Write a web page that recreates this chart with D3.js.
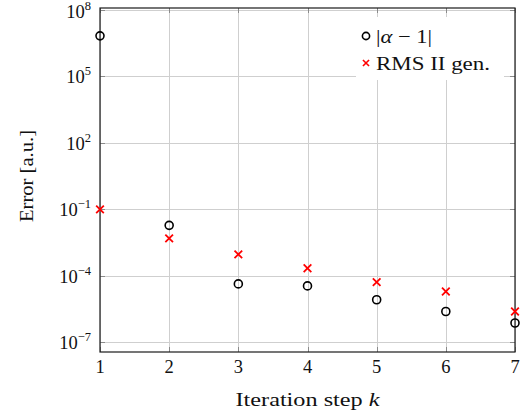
<!DOCTYPE html>
<html>
<head>
<meta charset="utf-8">
<script src="https://cdn.jsdelivr.net/npm/d3@7"></script>
<style>
	body { margin: 0; background: #fff; }
</style>
</head>
<body>
<svg id="chart" width="528" height="418"></svg>
<script>
// data
const steps = [1, 2, 3, 4, 5, 6, 7];
const alphaErr = [6.8e6, 1.9e-2, 4.3e-5, 3.5e-5, 8.3e-6, 2.45e-6, 7.4e-7];
const rmsErr = [1e-1, 4.9e-3, 9.3e-4, 2.2e-4, 5.2e-5, 1.95e-5, 2.45e-6];
const yTicks = [1e-7, 1e-4, 1e-1, 1e2, 1e5, 1e8];
const xTicks = [1, 2, 3, 4, 5, 6, 7];
const legendLabels = ["|α − 1|", "RMS II gen."];

const margin = { top: 8, right: 13, bottom: 66, left: 100 };
const width = 528, height = 418;

const svg = d3.select("#chart")
	.style("font-family", '"Liberation Serif"')
	.attr("fill", "#111");

const x = d3.scaleLinear()
	.domain([1, 7])
	.range([margin.left, width - margin.right]);

const y = d3.scaleLog()
	.domain([Math.pow(10, -7.44), Math.pow(10, 8.09)])
	.range([height - margin.bottom, margin.top]);

const x0 = x.range()[0], x1 = x.range()[1];
const y0 = y.range()[0], y1 = y.range()[1];

// grid
const grid = svg.append("g").attr("stroke", "#cfcfcf").attr("stroke-width", 1);
grid.selectAll(".gx").data(xTicks).join("line")
	.attr("x1", d => Math.round(x(d)) + 0.5).attr("x2", d => Math.round(x(d)) + 0.5)
	.attr("y1", y1).attr("y2", y0);
grid.selectAll(".gy").data(yTicks).join("line")
	.attr("y1", d => Math.round(y(d)) + 0.5).attr("y2", d => Math.round(y(d)) + 0.5)
	.attr("x1", x0).attr("x2", x1);

// tick marks inside on all sides
const ticks = svg.append("g").attr("stroke", "#8a8a8a").attr("stroke-width", 1);
const tl = 5;
xTicks.forEach(d => {
	const px = Math.round(x(d)) + 0.5;
	ticks.append("line").attr("x1", px).attr("x2", px).attr("y1", y0).attr("y2", y0 - tl);
	ticks.append("line").attr("x1", px).attr("x2", px).attr("y1", y1).attr("y2", y1 + tl);
});
yTicks.forEach(d => {
	const py = Math.round(y(d)) + 0.5;
	ticks.append("line").attr("y1", py).attr("y2", py).attr("x1", x0).attr("x2", x0 + tl);
	ticks.append("line").attr("y1", py).attr("y2", py).attr("x1", x1).attr("x2", x1 - tl);
});

// legend background (covers grid)
svg.append("rect")
	.attr("x", 356).attr("y", 17)
	.attr("width", 148).attr("height", 63)
	.attr("fill", "#fff");

// axis box
svg.append("rect")
	.attr("x", x0).attr("y", y1)
	.attr("width", x1 - x0).attr("height", y0 - y1)
	.attr("fill", "none").attr("stroke", "#1a1a1a").attr("stroke-width", 1.2);

// x tick labels
svg.append("g").selectAll("text").data(xTicks).join("text")
	.attr("x", d => x(d)).attr("y", y0 + 21)
	.attr("text-anchor", "middle")
	.attr("font-size", 18.5)
	.text(d => d);

// y tick labels 10^n
const yLab = svg.append("g").selectAll("text").data(yTicks).join("text")
	.attr("x", 91).attr("y", d => Math.max(y(d) + 7, 18))
	.attr("text-anchor", "end")
	.attr("font-size", 18.5);
yLab.append("tspan").text("10");
yLab.append("tspan")
	.attr("font-size", 12.5)
	.attr("dy", -8)
	.text(d => {
		const e = Math.round(Math.log10(d));
		return e < 0 ? "\u2212" + (-e) : String(e);
	});

// axis labels
svg.append("text")
	.attr("x", (x0 + x1) / 2).attr("y", 406)
	.attr("text-anchor", "middle")
	.attr("font-size", 19)
	.attr("textLength", 144)
	.attr("lengthAdjust", "spacingAndGlyphs")
	.html('Iteration step <tspan font-style="italic">k</tspan>');

svg.append("text")
	.attr("transform", "translate(33,176) rotate(-90)")
	.attr("text-anchor", "middle")
	.attr("font-size", 19)
	.attr("textLength", 92)
	.attr("lengthAdjust", "spacingAndGlyphs")
	.text("Error [a.u.]");

// markers
svg.append("g").selectAll("circle").data(steps).join("circle")
	.attr("cx", d => x(d))
	.attr("cy", (d, i) => y(alphaErr[i]))
	.attr("r", 4)
	.attr("fill", "none")
	.attr("stroke", "#000")
	.attr("stroke-width", 1.6);

const cross = d3.symbol().type(d3.symbolTimes).size(40);
svg.append("g").selectAll("path").data(steps).join("path")
	.attr("transform", (d, i) => `translate(${x(d)},${y(rmsErr[i])})`)
	.attr("d", cross)
	.attr("fill", "none")
	.attr("stroke", "#f00")
	.attr("stroke-width", 1.8);

// legend entries
const leg = svg.append("g");
leg.append("circle")
	.attr("cx", 366).attr("cy", 36).attr("r", 3.6)
	.attr("fill", "none").attr("stroke", "#000").attr("stroke-width", 1.6);
leg.append("path")
	.attr("transform", "translate(366,63)")
	.attr("d", d3.symbol().type(d3.symbolTimes).size(26))
	.attr("fill", "none").attr("stroke", "#f00").attr("stroke-width", 1.6);

leg.append("text")
	.attr("x", 376).attr("y", 43)
	.attr("font-size", 19)
	.attr("textLength", 56)
	.attr("lengthAdjust", "spacingAndGlyphs")
	.html('|<tspan font-style="italic">α</tspan> − 1|');
leg.append("text")
	.attr("x", 376).attr("y", 70)
	.attr("font-size", 19)
	.attr("textLength", 114)
	.attr("lengthAdjust", "spacingAndGlyphs")
	.text(legendLabels[1]);
</script>
</body>
</html>
